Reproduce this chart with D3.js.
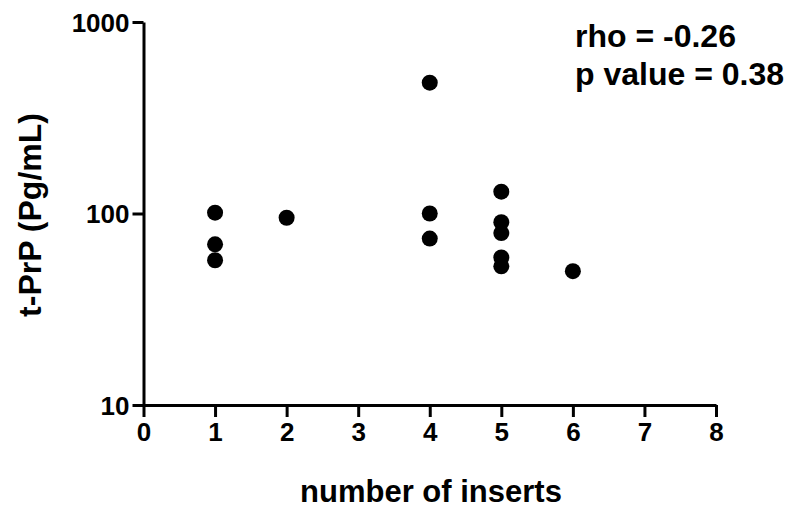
<!DOCTYPE html>
<html>
<head>
<meta charset="utf-8">
<script src="https://cdn.jsdelivr.net/npm/d3@7"></script>
<style>
  body { margin: 0; background: #fff; }
  svg { display: block; font-family: "Liberation Sans", Arial, sans-serif; font-weight: bold; }
  .axis path, .axis line { stroke: #000; stroke-width: 3; }
  .axis text { font-size: 26px; font-weight: bold; fill: #000; }
</style>
</head>
<body>
<div id="chart"></div>
<script>
// number of inserts per sample and measured t-PrP
const inserts = [1, 1, 1, 2, 4, 4, 4, 5, 5, 5, 5, 5, 6];
const tPrP = [101, 69, 57, 95, 482, 100, 74, 130, 90, 79, 59, 53, 50];
const xTicks = [0, 1, 2, 3, 4, 5, 6, 7, 8];
const yTicks = [10, 100, 1000];
const statsText = ["rho = -0.26", "p value = 0.38"];

const width = 792, height = 513;
const radius = 8;

const svg = d3.select("#chart").append("svg")
    .attr("width", width)
    .attr("height", height);

const x = d3.scaleLinear().domain([0, 8]).range([143.5, 716]);
const y = d3.scaleLog().domain([10, 1000]).range([405, 22]);

svg.append("g")
    .attr("class", "axis")
    .attr("transform", `translate(0,${y(10)})`)
    .call(d3.axisBottom(x).tickValues(xTicks).tickFormat(d3.format("d"))
        .tickSize(12).tickSizeOuter(0).tickPadding(6));

const yAxis = svg.append("g")
    .attr("class", "axis")
    .attr("transform", `translate(${x(0)},0)`)
    .call(d3.axisLeft(y).tickValues(yTicks).tickFormat(d3.format("d"))
        .tickSize(11).tickSizeOuter(0).tickPadding(3));

yAxis.selectAll("text").attr("dy", "0.36em");

// points
svg.append("g")
    .selectAll("circle")
    .data(inserts.map((d, i) => ({ n: d, v: tPrP[i] })))
    .enter()
    .append("circle")
    .attr("cx", d => x(d.n))
    .attr("cy", d => y(d.v))
    .attr("r", radius)
    .attr("fill", "#000");

// axis titles
svg.append("text")
    .attr("x", 431)
    .attr("y", 502)
    .attr("text-anchor", "middle")
    .style("font-size", "31px")
    .text("number of inserts");

svg.append("text")
    .attr("transform", `translate(41,215) rotate(-90)`)
    .attr("text-anchor", "middle")
    .style("font-size", "32px")
    .text("t-PrP (Pg/mL)");

// stats annotation
svg.append("g")
    .selectAll("text")
    .data(statsText)
    .enter()
    .append("text")
    .attr("x", 575)
    .attr("y", (d, i) => 47 + i * 38)
    .style("font-size", "32px")
    .text(d => d);
</script>
</body>
</html>
